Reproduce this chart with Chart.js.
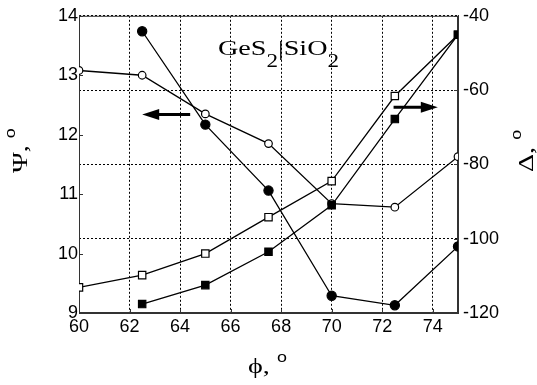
<!DOCTYPE html>
<html>
<head>
<meta charset="utf-8">
<script src="https://cdn.jsdelivr.net/npm/chart.js@4.4.0/dist/chart.umd.min.js"></script>
<style>
  html, body { margin: 0; padding: 0; background: #fff; }
  #wrap { width: 537px; height: 385px; }
</style>
</head>
<body>
<div id="wrap"><canvas id="chart" width="537" height="385"></canvas></div>
<script>
// angle of incidence, degrees
const phi = [60, 62.5, 65, 67.5, 70, 72.5, 75];
// Psi (left axis)
const psiOpen = [13.08, 13.0, 12.35, 11.85, 10.84, 10.78, 11.63];
const psiFilled = [null, 13.74, 12.17, 11.06, 9.29, 9.13, 10.12];
// Delta (right axis)
const deltaOpen = [-113.1, -109.8, -104.0, -94.2, -84.5, -61.6, -45.1];
const deltaFilled = [null, -117.6, -112.5, -103.5, -91.0, -67.8, -45.1];

const phiTicks = [60, 62, 64, 66, 68, 70, 72, 74];
const psiTicks = [9, 10, 11, 12, 13, 14];
const deltaTicks = [-120, -100, -80, -60, -40];

const toPoints = (vals) => phi.map((x, i) => ({ x: x, y: vals[i] })).filter(p => p.y !== null);

const serif = '"Liberation Serif", "Times New Roman", serif';
const sans = '"Liberation Sans", Arial, sans-serif';
const tickFont = { family: sans, size: 18 };

const series = (data, axis, style, filled) => ({
  data: toPoints(data),
  yAxisID: axis,
  borderColor: '#000',
  borderWidth: 1.3,
  pointStyle: style,
  pointRadius: style === 'rect' ? 5.2 : (filled ? 4.6 : 3.8),
  pointBorderWidth: 1.2,
  pointBorderColor: '#000',
  pointBackgroundColor: filled ? '#000' : '#fff',
  tension: 0,
});

// draw text pieces one after another, stretched along the text direction
function richText(ctx, x, y, angle, parts) {
  ctx.save();
  ctx.translate(x, y);
  ctx.rotate(angle);
  ctx.scale(1.28, 1);
  ctx.fillStyle = '#000';
  ctx.textAlign = 'left';
  ctx.textBaseline = 'alphabetic';
  let cx = 0;
  for (const p of parts) {
    ctx.font = p.font;
    ctx.fillText(p.text, cx, p.dy || 0);
    cx += ctx.measureText(p.text).width;
  }
  ctx.restore();
}

function arrow(ctx, x1, x2, y) {
  const dir = Math.sign(x2 - x1);
  ctx.save();
  ctx.strokeStyle = '#000';
  ctx.fillStyle = '#000';
  ctx.lineWidth = 3;
  ctx.beginPath();
  ctx.moveTo(x1, y);
  ctx.lineTo(x2 - dir * 12, y);
  ctx.stroke();
  ctx.beginPath();
  ctx.moveTo(x2, y);
  ctx.lineTo(x2 - dir * 17, y - 5.5);
  ctx.lineTo(x2 - dir * 17, y + 5.5);
  ctx.closePath();
  ctx.fill();
  ctx.restore();
}

const decorations = {
  id: 'decorations',
  beforeDatasetsDraw(chart) {
    const { ctx, chartArea: a, scales: { x, y, y1 } } = chart;
    ctx.save();
    ctx.strokeStyle = '#333';
    ctx.lineWidth = 1;
    ctx.strokeRect(a.left + 0.5, a.top + 0.5, a.right - a.left - 1, a.bottom - a.top - 1);
    // small inward tick marks
    ctx.beginPath();
    psiTicks.forEach(v => {
      const py = Math.round(y.getPixelForValue(v)) + 0.5;
      ctx.moveTo(a.left, py); ctx.lineTo(a.left + 4, py);
    });
    deltaTicks.forEach(v => {
      const py = Math.round(y1.getPixelForValue(v)) + 0.5;
      ctx.moveTo(a.right, py); ctx.lineTo(a.right - 4, py);
    });
    phiTicks.forEach(v => {
      const px = Math.round(x.getPixelForValue(v)) + 0.5;
      ctx.moveTo(px, a.bottom); ctx.lineTo(px, a.bottom - 4);
    });
    ctx.stroke();
    ctx.restore();
  },
  afterDraw(chart) {
    const { ctx, scales: { x, y } } = chart;
    arrow(ctx, x.getPixelForValue(64.4), x.getPixelForValue(62.5), y.getPixelForValue(12.34));
    arrow(ctx, x.getPixelForValue(72.45), x.getPixelForValue(74.2), y.getPixelForValue(12.46));

    richText(ctx, 218, 55, 0, [
      { text: 'GeS', font: '22px ' + serif },
      { text: '2', font: '18px ' + serif, dy: 12 },
      { text: '|SiO', font: '22px ' + serif },
      { text: '2', font: '18px ' + serif, dy: 12 },
    ]);
    richText(ctx, 248, 373, 0, [
      { text: '\u03D5, ', font: '22px ' + serif },
      { text: 'o', font: '14px ' + sans, dy: -11 },
    ]);
    richText(ctx, 27, 173, -Math.PI / 2, [
      { text: '\u03A8, ', font: '22px ' + serif },
      { text: 'o', font: '14px ' + sans, dy: -12 },
    ]);
    richText(ctx, 533, 172, -Math.PI / 2, [
      { text: '\u0394, ', font: '22px ' + serif },
      { text: 'o', font: '14px ' + sans, dy: -12 },
    ]);
  }
};

new Chart(document.getElementById('chart'), {
  type: 'line',
  data: {
    datasets: [
      series(deltaFilled, 'y1', 'rect', true),
      series(deltaOpen, 'y1', 'rect', false),
      series(psiFilled, 'y', 'circle', true),
      series(psiOpen, 'y', 'circle', false),
    ]
  },
  options: {
    responsive: false,
    devicePixelRatio: 1,
    animation: false,
    layout: { padding: { top: 14, left: 0, right: 0, bottom: 0 } },
    plugins: { legend: { display: false }, tooltip: { enabled: false } },
    scales: {
      x: {
        type: 'linear',
        min: 60,
        max: 75,
        afterBuildTicks: (s) => { s.ticks = phiTicks.map(v => ({ value: v })); },
        afterFit: (s) => { s.height = 72; },
        grid: { color: '#000', lineWidth: 1, drawTicks: false },
        border: { display: true, color: '#333', dash: [2, 2] },
        ticks: { font: tickFont, color: '#000', padding: 3, maxRotation: 0 },
      },
      y: {
        position: 'left',
        min: 9,
        max: 14,
        afterBuildTicks: (s) => { s.ticks = psiTicks.map(v => ({ value: v })); },
        afterFit: (s) => { s.width = 79; },
        grid: { display: false, drawTicks: false },
        border: { display: true, color: '#333' },
        ticks: { font: tickFont, color: '#000', padding: 1 },
      },
      y1: {
        position: 'right',
        min: -120,
        max: -40,
        afterBuildTicks: (s) => { s.ticks = deltaTicks.map(v => ({ value: v })); },
        afterFit: (s) => { s.width = 79; },
        grid: { color: '#000', lineWidth: 1, drawTicks: false },
        border: { display: true, color: '#333', dash: [2, 2] },
        ticks: { font: tickFont, color: '#000', padding: 5 },
      },
    }
  },
  plugins: [decorations]
});
</script>
</body>
</html>
